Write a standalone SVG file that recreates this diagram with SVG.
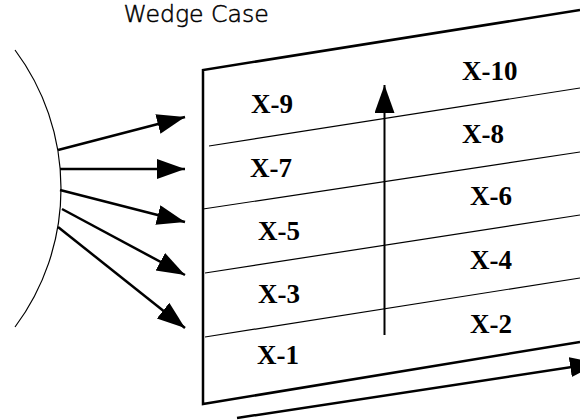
<svg xmlns="http://www.w3.org/2000/svg" width="580" height="420" viewBox="0 0 580 420">
<style>
.lbl{font-family:"Liberation Serif","Times New Roman",serif;font-weight:bold;font-size:27px;fill:#000}
.title{font-family:"DejaVu Sans",sans-serif;font-weight:200;font-size:23.6px;fill:#000;stroke:#000;stroke-width:0.5}
.thick{stroke:#000;stroke-width:2.5;fill:none}
.thin{stroke:#000;stroke-width:1.2;fill:none}
.arr{stroke:#000;stroke-width:2.5;fill:none;marker-end:url(#ah)}
</style>
<defs>
<marker id="ah" markerUnits="userSpaceOnUse" markerWidth="30" markerHeight="22" refX="28" refY="10" orient="auto">
<path d="M0,0 L28,10 L0,20 Z" fill="#000"/>
</marker>
</defs>
<rect width="580" height="420" fill="#fff"/>
<text class="title" x="123.5" y="22">Wedge Case</text>
<g id="wall">
<path class="thin" d="M15,50 A231.5,231.5 0 0 1 15,327"/>
</g>
<g id="plate">
<path class="thick" d="M580,10 L203,70 L203,404 L580,342"/>
<path class="thin" d="M209,146 L580,88"/>
<path class="thin" d="M203,209 L580,152"/>
<path class="thin" d="M205,273 L580,215"/>
<path class="thin" d="M205,337 L580,278"/>
</g>
<g id="connectors">
<line class="arr" x1="58" y1="150" x2="185" y2="117"/>
<line class="arr" x1="60" y1="169" x2="185" y2="169"/>
<line class="arr" x1="60" y1="190" x2="185" y2="222"/>
<line class="arr" x1="62" y1="209" x2="185" y2="275"/>
<line class="arr" x1="58" y1="227" x2="185" y2="328"/>
<line class="arr" x1="384.5" y1="335" x2="384.5" y2="85" style="stroke-width:2"/>
<line class="arr" x1="237" y1="418" x2="598" y2="363"/>
</g>
<g id="labels">
<g id="x9"><text class="lbl" x="251" y="113">X-9</text></g>
<g id="x10"><text class="lbl" x="462" y="80">X-10</text></g>
<g id="x7"><text class="lbl" x="250" y="177">X-7</text></g>
<g id="x8"><text class="lbl" x="462" y="143">X-8</text></g>
<g id="x5"><text class="lbl" x="258" y="240">X-5</text></g>
<g id="x6"><text class="lbl" x="470" y="205">X-6</text></g>
<g id="x3"><text class="lbl" x="258" y="303">X-3</text></g>
<g id="x4"><text class="lbl" x="470" y="269">X-4</text></g>
<g id="x1"><text class="lbl" x="257" y="364">X-1</text></g>
<g id="x2"><text class="lbl" x="470" y="333">X-2</text></g>
</g>
</svg>
